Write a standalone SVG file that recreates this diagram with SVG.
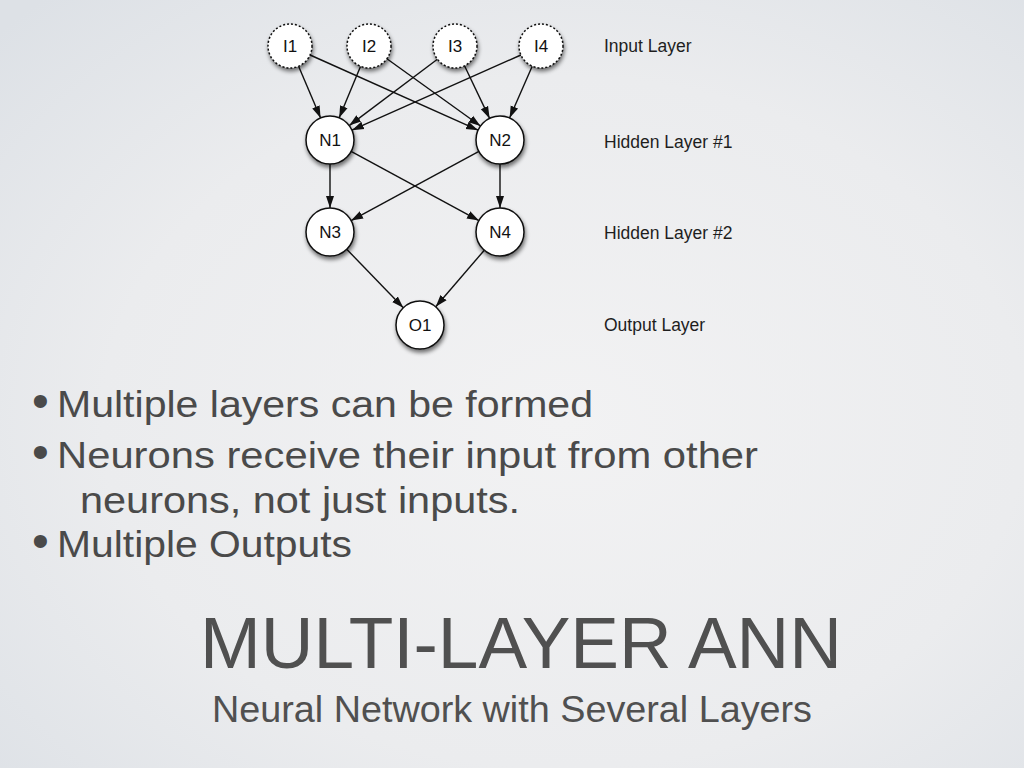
<svg xmlns="http://www.w3.org/2000/svg" width="1024" height="768" viewBox="0 0 1024 768">
<defs>
<radialGradient id="bg" cx="0.55" cy="0.55" r="0.75">
<stop offset="0" stop-color="#f2f2f3"/>
<stop offset="0.6" stop-color="#ebecee"/>
<stop offset="1" stop-color="#dde1e6"/>
</radialGradient>
<filter id="sh" x="-50%" y="-50%" width="200%" height="200%">
<feGaussianBlur in="SourceAlpha" stdDeviation="2.2"/>
<feOffset dx="1" dy="3" result="b"/>
<feComponentTransfer><feFuncA type="linear" slope="0.55"/></feComponentTransfer>
<feMerge><feMergeNode/><feMergeNode in="SourceGraphic"/></feMerge>
</filter>
<marker id="ah" markerUnits="userSpaceOnUse" markerWidth="13" markerHeight="10" viewBox="0 0 13 10" refX="12" refY="5" orient="auto">
<path d="M0,1 L12,5 L0,9 z" fill="#111"/>
</marker>
<style>
.in{fill:#fff;stroke:#111;stroke-width:1.5;stroke-dasharray:2 2;}
.nd{fill:#fff;stroke:#111;stroke-width:1.5;}
.nl{font-family:"Liberation Sans",Arial,sans-serif;font-size:17px;fill:#111;text-anchor:middle;}
.ll{font-family:"Liberation Sans",Arial,sans-serif;font-size:17.5px;fill:#1e1e1e;}
.e{stroke:#111;stroke-width:1.4;fill:none;marker-end:url(#ah);}
.bt{font-family:"Liberation Sans",Arial,sans-serif;font-size:37px;fill:#4a4a4a;}
.bu{font-family:"Liberation Sans",Arial,sans-serif;font-size:48px;fill:#4a4a4a;}
.ti{font-family:"Liberation Sans",Arial,sans-serif;font-size:72px;fill:#505050;}
.st{font-family:"Liberation Sans",Arial,sans-serif;font-size:37px;fill:#505050;}
</style>
</defs>
<rect width="1024" height="768" fill="url(#bg)"/>

<g id="connectors">
<line class="e" x1="298.6" y1="66.2" x2="320.6" y2="117.9"/>
<line class="e" x1="310.1" y1="55.0" x2="478.1" y2="130.2"/>
<line class="e" x1="360.6" y1="66.3" x2="339.2" y2="117.8"/>
<line class="e" x1="386.9" y1="58.8" x2="480.5" y2="126.0"/>
<line class="e" x1="437.4" y1="59.2" x2="349.2" y2="125.6"/>
<line class="e" x1="464.5" y1="65.8" x2="489.6" y2="118.4"/>
<line class="e" x1="520.9" y1="55.0" x2="351.9" y2="130.2"/>
<line class="e" x1="532.2" y1="66.2" x2="509.6" y2="118.0"/>
<line class="e" x1="330" y1="164" x2="330" y2="208"/>
<line class="e" x1="351.1" y1="151.4" x2="478.9" y2="220.6"/>
<line class="e" x1="478.9" y1="151.4" x2="351.1" y2="220.6"/>
<line class="e" x1="500" y1="164" x2="500" y2="208"/>
<line class="e" x1="346.7" y1="249.2" x2="403.3" y2="307.8"/>
<line class="e" x1="484.3" y1="250.2" x2="435.7" y2="306.8"/>
</g>

<g id="I1"><circle class="in" cx="290" cy="46" r="22" filter="url(#sh)"/><text class="nl" x="290" y="52">I1</text></g>
<g id="I2"><circle class="in" cx="369" cy="46" r="22" filter="url(#sh)"/><text class="nl" x="369" y="52">I2</text></g>
<g id="I3"><circle class="in" cx="455" cy="46" r="22" filter="url(#sh)"/><text class="nl" x="455" y="52">I3</text></g>
<g id="I4"><circle class="in" cx="541" cy="46" r="22" filter="url(#sh)"/><text class="nl" x="541" y="52">I4</text></g>
<g id="N1"><circle class="nd" cx="330" cy="140" r="24" filter="url(#sh)"/><text class="nl" x="330" y="146">N1</text></g>
<g id="N2"><circle class="nd" cx="500" cy="140" r="24" filter="url(#sh)"/><text class="nl" x="500" y="146">N2</text></g>
<g id="N3"><circle class="nd" cx="330" cy="232" r="24" filter="url(#sh)"/><text class="nl" x="330" y="238">N3</text></g>
<g id="N4"><circle class="nd" cx="500" cy="232" r="24" filter="url(#sh)"/><text class="nl" x="500" y="238">N4</text></g>
<g id="O1"><circle class="nd" cx="420" cy="325" r="24" filter="url(#sh)"/><text class="nl" x="420" y="331">O1</text></g>

<g id="layer-labels">
<text class="ll" x="604" y="52">Input Layer</text>
<text class="ll" x="604" y="148">Hidden Layer #1</text>
<text class="ll" x="604" y="239">Hidden Layer #2</text>
<text class="ll" x="604" y="331">Output Layer</text>
</g>

<g id="bullets">
<text class="bu" x="32" y="417">•</text>
<text class="bt" x="57" y="417" textLength="536" lengthAdjust="spacingAndGlyphs">Multiple layers can be formed</text>
<text class="bu" x="32" y="468">•</text>
<text class="bt" x="57" y="468" textLength="701" lengthAdjust="spacingAndGlyphs">Neurons receive their input from other</text>
<text class="bt" x="80" y="513" textLength="440" lengthAdjust="spacingAndGlyphs">neurons, not just inputs.</text>
<text class="bu" x="32" y="557">•</text>
<text class="bt" x="57" y="557" textLength="295" lengthAdjust="spacingAndGlyphs">Multiple Outputs</text>
</g>

<g id="title">
<text class="ti" x="200" y="668" textLength="642" lengthAdjust="spacingAndGlyphs">MULTI-LAYER ANN</text>
<text class="st" x="212" y="722" textLength="600" lengthAdjust="spacingAndGlyphs">Neural Network with Several Layers</text>
</g>
</svg>
